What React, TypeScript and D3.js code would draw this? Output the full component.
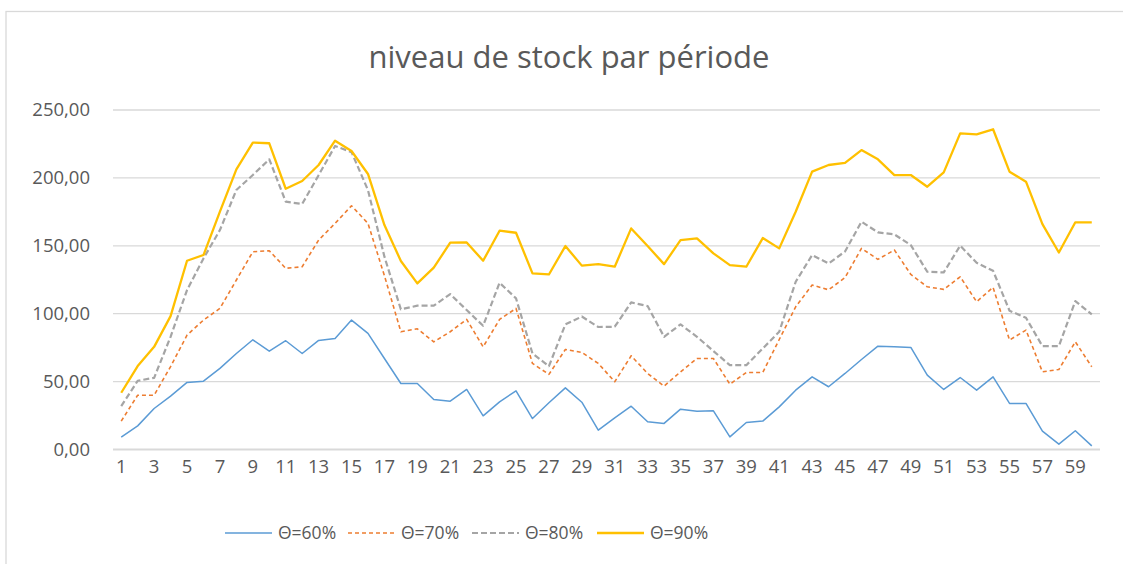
import React from "react";
import * as d3 from "d3";

const periods: number[] = d3.range(1, 61);

const theta60: number[] = [
  9.1, 17.4, 30.2, 39.3, 49.4, 50.3, 59.7, 70.7, 80.8, 72.4,
  80.1, 70.7, 80.3, 81.8, 95.3, 85.5, 67.0, 48.6, 48.6, 36.8,
  35.6, 44.2, 24.8, 35.1, 43.2, 22.8, 34.4, 45.4, 34.8, 14.2,
  23.3, 31.9, 20.4, 19.2, 29.7, 28.2, 28.5, 9.3, 19.9, 20.9,
  31.4, 43.7, 53.5, 46.2, 56.0, 66.3, 76.1, 75.6, 75.2, 54.8,
  44.2, 53.0, 43.7, 53.5, 33.9, 33.9, 13.5, 3.9, 13.8, 2.7,
];
const theta70: number[] = [
  20.9, 40.0, 40.0, 61.0, 84.2, 95.3, 103.9, 124.8, 145.6, 146.4,
  133.4, 134.6, 154.2, 166.5, 179.5, 166.5, 128.0, 86.7, 88.9, 79.3,
  86.7, 95.8, 75.6, 95.8, 103.9, 63.4, 55.3, 73.7, 71.5, 63.4,
  49.9, 69.0, 56.0, 46.7, 57.2, 67.0, 67.0, 48.1, 56.7, 56.7,
  81.0, 105.1, 121.1, 117.6, 126.6, 148.1, 140.0, 146.9, 128.9, 119.8,
  117.9, 127.2, 108.8, 119.4, 80.6, 87.9, 57.2, 58.9, 79.3, 60.9,
];
const theta80: number[] = [
  31.9, 50.6, 52.8, 83.0, 117.4, 140.7, 161.6, 191.1, 202.1, 213.7,
  182.5, 180.8, 202.0, 223.5, 219.0, 191.0, 142.0, 103.2, 105.9, 105.9,
  114.4, 102.7, 91.1, 122.8, 111.3, 70.7, 61.4, 92.1, 97.9, 90.2,
  90.4, 108.3, 105.6, 83.0, 92.1, 83.0, 72.5, 62.1, 62.1, 74.4,
  86.7, 123.5, 143.2, 137.0, 145.8, 167.7, 159.9, 158.4, 150.5, 130.9,
  130.4, 150.1, 137.5, 131.6, 102.2, 97.0, 76.1, 76.1, 109.3, 99.5,
];
const theta90: number[] = [
  41.8, 61.4, 75.6, 98.2, 139.0, 143.2, 175.1, 206.3, 226.0, 225.5,
  192.0, 197.7, 209.5, 227.4, 219.8, 202.9, 165.3, 138.8, 122.3, 133.9,
  152.3, 152.5, 139.0, 161.1, 159.6, 129.7, 128.9, 149.8, 135.4, 136.5,
  134.6, 162.8, 149.8, 136.5, 154.2, 155.5, 144.4, 135.8, 134.6, 155.7,
  148.1, 175.1, 204.6, 209.5, 211.0, 220.5, 213.7, 202.1, 202.1, 193.5,
  204.1, 232.8, 232.1, 235.8, 204.6, 197.2, 166.0, 145.1, 167.3, 167.3,
];

const seriesNames: string[] = ["Θ=60%", "Θ=70%", "Θ=80%", "Θ=90%"];
const seriesColors: string[] = ["#5B9BD5", "#ED7D31", "#A5A5A5", "#FFC000"];
const seriesDash: string[] = ["", "4,3", "6,3", ""];
const seriesWidth: number[] = [1.5, 1.6, 2.2, 2.3];
const yTicks: number[] = [0, 50, 100, 150, 200, 250];
const xTickLabels: number[] = periods.filter((p) => p % 2 === 1);

const allSeries: number[][] = [theta60, theta70, theta80, theta90];

const W = 1123;
const H = 564;
const plot = { left: 113, right: 1100, top: 110, bottom: 449.5 };
const FONT = "'Open Sans', sans-serif";
const TEXT = "#595959";

export default function App() {
  const x = d3
    .scaleBand<number>()
    .domain(periods)
    .range([plot.left, plot.right]);
  const y = d3.scaleLinear().domain([0, 250]).range([plot.bottom, plot.top]);
  const cx = (p: number) => (x(p) as number) + x.bandwidth() / 2;
  const line = d3
    .line<number>()
    .x((_, i) => cx(periods[i]))
    .y((d) => y(d));

  const fmt = (v: number) => v.toFixed(2).replace(".", ",");

  const legendX = [225, 348, 472, 597];

  return (
    <svg
      width={W}
      height={H}
      style={{ position: "absolute", left: 0, top: 0, background: "#fff" }}
    >
      <rect x={0} y={0} width={W} height={H} fill="#fff" />
      <rect
        x={6}
        y={11.5}
        width={W + 20}
        height={H + 20}
        fill="none"
        stroke="#D9D9D9"
        strokeWidth={1.3}
      />
      <text
        x={569}
        y={68}
        textAnchor="middle"
        fontFamily={FONT}
        fontSize={31}
        fill={TEXT}
      >
        niveau de stock par période
      </text>
      {yTicks.map((t) => (
        <g key={t}>
          <line
            x1={plot.left}
            x2={plot.right}
            y1={y(t)}
            y2={y(t)}
            stroke="#D9D9D9"
            strokeWidth={t === 0 ? 2.2 : 1.3}
          />
          <text
            x={90}
            y={y(t)}
            dy="0.35em"
            textAnchor="end"
            fontFamily={FONT}
            fontSize={18.5}
            fill={TEXT}
          >
            {fmt(t)}
          </text>
        </g>
      ))}
      {xTickLabels.map((p) => (
        <text
          key={p}
          x={cx(p)}
          y={473}
          textAnchor="middle"
          fontFamily={FONT}
          fontSize={18.5}
          fill={TEXT}
        >
          {p}
        </text>
      ))}
      {allSeries.map((s, i) => (
        <path
          key={i}
          d={line(s) as string}
          fill="none"
          stroke={seriesColors[i]}
          strokeWidth={seriesWidth[i]}
          strokeDasharray={seriesDash[i] || undefined}
          strokeLinejoin="round"
        />
      ))}
      {seriesNames.map((n, i) => (
        <g key={n}>
          <line
            x1={legendX[i]}
            x2={legendX[i] + 47}
            y1={533}
            y2={533}
            stroke={seriesColors[i]}
            strokeWidth={seriesWidth[i]}
            strokeDasharray={seriesDash[i] || undefined}
          />
          <text
            x={legendX[i] + 53}
            y={533}
            dy="0.35em"
            fontFamily={FONT}
            fontSize={17.5}
            fill={TEXT}
          >
            {n}
          </text>
        </g>
      ))}
    </svg>
  );
}
